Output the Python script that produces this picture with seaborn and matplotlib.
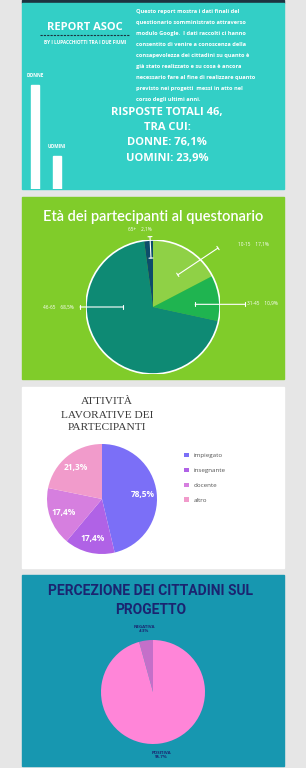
import matplotlib
matplotlib.use("Agg")
import matplotlib.pyplot as plt
import seaborn as sns
from matplotlib.patches import Rectangle, Circle

# ---- data ----
gender = ["DONNE", "UOMINI"]
gender_pct = [76.1, 23.9]

age_groups = ["10-15", "31-45", "46-65", "65+"]
age_pct = [17.1, 10.9, 68.5, 2.1]
age_labels = ["17,1%", "10,9%", "68,5%", "2,1%"]

jobs = ["impiegato", "insegnante", "docente", "altro"]
job_share = [46.3, 14.8, 17.1, 21.8]          # slice sizes as drawn
job_labels = ["78,5%", "17,4%", "17,4%", "21,3%"]  # labels as printed

opinion = ["NEGATIVA", "POSITIVA"]
opinion_pct = [4.3, 95.7]

intro = [
    "Questo report mostra i dati finali del",
    "questionario somministrato attraverso",
    "modulo Google.  I dati raccolti ci hanno",
    "consentito di venire a conoscenza della",
    "consapevolezza dei cittadini su quanto è",
    "già stato realizzato e su cosa è ancora",
    "necessario fare al fine di realizzare quanto",
    "previsto nei progetti  messi in atto nel",
    "corso degli ultimi anni.",
]
summary = ["RISPOSTE TOTALI 46,", "TRA CUI:", "DONNE: 76,1%", "UOMINI: 23,9%"]

W, H = 306, 768


def rect(x0, y0, x1, y1):
    return [x0 / W, 1 - y1 / H, (x1 - x0) / W, (y1 - y0) / H]


sns.set_theme(style="white")
plt.rcParams["font.family"] = ["Open Sans", "DejaVu Sans"]

fig = plt.figure(figsize=(W / 100, H / 100), dpi=100, facecolor="#e6e6e6")
bg = fig.add_axes([0, 0, 1, 1])
bg.set_xlim(0, W)
bg.set_ylim(H, 0)
bg.axis("off")

# panel backgrounds
bg.add_patch(Rectangle((22, 0), 262, 2.5, color="#1d3340"))
bg.add_patch(Rectangle((22, 2.5), 262, 186.5, color="#33cfc6"))
bg.add_patch(Rectangle((22, 197), 262, 182, color="#80cc2a"))
bg.add_patch(Rectangle((22, 387), 262, 181, color="white"))
bg.add_patch(Rectangle((22, 575), 262, 191, color="#1797b0"))

# ---- panel 1 ----
bg.text(85, 28, "REPORT ASOC", color="white", fontsize=8, fontweight="bold",
        ha="center", va="center")
bg.plot([40, 129], [34.5, 34.5], color="#1d3340", lw=0.8, ls=(0, (2, 1)))
bg.text(85, 43, "BY I LUPACCHIOTTI TRA I DUE FIUMI", color="white", fontsize=3.4,
        fontweight="bold", ha="center", va="center")
for i, line in enumerate(intro):
    bg.text(136, 12 + i * 10.9, line, color="white", fontsize=4.1,
            fontweight="bold", ha="left", va="center")
for i, line in enumerate(summary):
    bg.text(167, 113 + i * 15, line, color="white", fontsize=8,
            fontweight="bold", ha="center", va="center")

ax1 = fig.add_axes(rect(26, 52.3, 66, 189))
sns.barplot(x=gender, y=gender_pct, color="white", saturation=1, width=0.36, ax=ax1)
ax1.set_xlim(-0.41, 1.41)
ax1.set_ylim(0, 100)
ax1.bar_label(ax1.containers[0], labels=gender, padding=5, fontsize=3.4,
              color="white", fontweight="bold")
ax1.axis("off")

# ---- panel 2 ----
bg.text(153, 217, "Età dei partecipanti al questonario", color="white",
        fontsize=10.5, ha="center", va="center", family=["Lato", "DejaVu Sans"],
        fontweight="semibold")
ax2 = fig.add_axes(rect(86, 240, 220, 374))
ax2.pie(age_pct, colors=["#8fd146", "#1fb450", "#0e8a74", "#0d4d6a"],
        startangle=90, counterclock=False, wedgeprops=dict(linewidth=0))
ax2.add_patch(Circle((0, 0), 1, fill=False, ec="white", lw=1.2))
ax2.set_xlim(-1, 1)
ax2.set_ylim(-1, 1)
ax2.axis("off")
cap = dict(arrowstyle="|-|, widthA=0.12, widthB=0.12", color="white", lw=0.8,
           shrinkA=0, shrinkB=0)
leaders = [((0.37, 0.48), (0.97, 0.88)), ((0.63, 0.04), (1.37, 0.04)),
           ((-0.45, 0.0), (-1.09, 0.0)), ((-0.03, 0.73), (-0.045, 1.05))]
for a, b in leaders:
    ax2.annotate("", xy=a, xytext=b, arrowprops=cap, annotation_clip=False)
lab_kw = dict(color="white", fontsize=3.4, va="center", clip_on=False)
ax2.text(1.27, 0.94, f"{age_groups[0]}    {age_labels[0]}", ha="left", **lab_kw)
ax2.text(1.40, 0.05, f"{age_groups[1]}    {age_labels[1]}", ha="left", **lab_kw)
ax2.text(-1.19, 0.0, f"{age_groups[2]}    {age_labels[2]}", ha="right", **lab_kw)
ax2.text(-0.19, 1.16, f"{age_groups[3]}    {age_labels[3]}", ha="center", **lab_kw)

# ---- panel 3 ----
for i, line in enumerate(["ATTIVITÀ", "LAVORATIVE DEI", "PARTECIPANTI"]):
    bg.text(107, 402 + i * 13, line, color="#3a3a3a", fontsize=8.2,
            ha="center", va="center", family=["Liberation Serif", "DejaVu Serif"])
ax3 = fig.add_axes(rect(47, 444, 157, 554))
lab_iter = iter(job_labels)
wedges3, _, _ = ax3.pie(job_share, colors=["#7b6ff7", "#b062e6", "#d67fdf", "#f19bcb"],
                        startangle=90, counterclock=False, pctdistance=0.74,
                        autopct=lambda p: next(lab_iter),
                        wedgeprops=dict(linewidth=0),
                        textprops=dict(color="white", fontsize=6, fontweight="bold"))
ax3.set_xlim(-1, 1)
ax3.set_ylim(-1, 1)
ax3.axis("off")
fig.legend(wedges3, jobs, loc="upper left", bbox_to_anchor=(178 / W, 1 - 447 / H),
           frameon=False, fontsize=4.5, handlelength=0.8, handleheight=0.8,
           labelspacing=1.5, handletextpad=0.8, labelcolor="#555555")

# ---- panel 4 ----
for i, line in enumerate(["PERCEZIONE DEI CITTADINI SUL", "PROGETTO"]):
    bg.text(151, 591 + i * 19, line, color="#1b2470", fontsize=10,
            fontweight="bold", ha="center", va="center",
            family=["Roboto", "DejaVu Sans"])
ax4 = fig.add_axes(rect(101, 640, 205, 744))
_, texts4 = ax4.pie(opinion_pct, colors=["#c46fc9", "#ff85d8"],
                    labels=[f"{o}\n{str(p)}%" for o, p in zip(opinion, opinion_pct)],
                    labeldistance=1.22, startangle=90, counterclock=True,
                    wedgeprops=dict(linewidth=0),
                    textprops=dict(color="#1b2470", fontsize=3.2, fontweight="bold"))
for t in texts4:
    t.set_ha("center")
    t.set_multialignment("center")
ax4.set_xlim(-1, 1)
ax4.set_ylim(-1, 1)
ax4.axis("off")

fig.savefig("out.png", dpi=100, facecolor=fig.get_facecolor())
